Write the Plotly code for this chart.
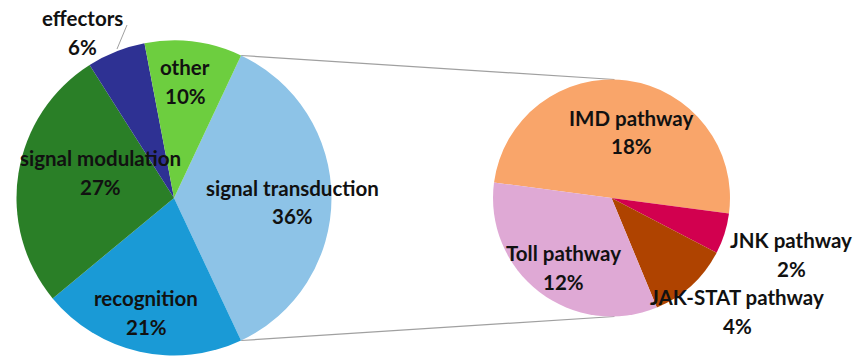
import math
import plotly.graph_objects as go

# Main pie: immune gene categories (percent)
main_labels = ["signal transduction", "recognition", "signal modulation", "effectors", "other"]
main_values = [36, 21, 27, 6, 10]
main_colors = ["#8DC3E7", "#1A9AD6", "#2A7F27", "#2E3193", "#6DCE3F"]

# Breakdown of "signal transduction" (percent of all genes)
sub_labels = ["IMD pathway", "JNK pathway", "JAK-STAT pathway", "Toll pathway"]
sub_values = [18, 2, 4, 12]
sub_colors = ["#F9A56A", "#D2004F", "#AF4300", "#DFA9D5"]

W, H = 855, 356
FONT = "Lato"
FSIZE = 20.5

# Pie geometry in pixels
L_CX, L_CY, L_R = 174, 198, 157.5
R_CX, R_CY, R_R = 611.5, 198, 118.5


def dom(cx, cy, r):
    return dict(x=[(cx - r) / W, (cx + r) / W], y=[1 - (cy + r) / H, 1 - (cy - r) / H])


# Start angle (clockwise from 12 o'clock) so the exploded slice is centred at 3 o'clock
main_total = sum(main_values)
first_span = 360 * main_values[0] / main_total
main_rot = 90 - first_span / 2
sub_total = sum(sub_values)
sub_rot = 97.5 - 360 * sub_values[0] / sub_total

fig = go.Figure()
fig.add_trace(go.Pie(
    labels=main_labels, values=main_values, sort=False, direction="clockwise",
    rotation=main_rot, marker=dict(colors=main_colors, line=dict(width=0)),
    textinfo="none", hoverinfo="label+percent", showlegend=False,
    domain=dom(L_CX, L_CY, L_R),
))
fig.add_trace(go.Pie(
    labels=sub_labels, values=sub_values, sort=False, direction="clockwise",
    rotation=sub_rot, marker=dict(colors=sub_colors, line=dict(width=0)),
    textinfo="none", hoverinfo="label+value", showlegend=False,
    domain=dom(R_CX, R_CY, R_R),
))


def px(x, y):
    return x / W, 1 - y / H


# Connector lines from the exploded slice edges to top/bottom of the sub pie
shapes = []
for ang, ty in [(main_rot, R_CY - R_R), (main_rot + first_span, R_CY + R_R)]:
    a = math.radians(ang)
    x0 = L_CX + L_R * math.sin(a)
    y0 = L_CY - L_R * math.cos(a)
    X0, Y0 = px(x0, y0)
    X1, Y1 = px(R_CX + 3, ty)
    shapes.append(dict(type="line", xref="paper", yref="paper", x0=X0, y0=Y0, x1=X1, y1=Y1,
                       line=dict(color="#A0A0A0", width=1.2), layer="below"))
# leader line for the small "effectors" label
X0, Y0 = px(127, 25)
X1, Y1 = px(117, 49)
shapes.append(dict(type="line", xref="paper", yref="paper", x0=X0, y0=Y0, x1=X1, y1=Y1,
                   line=dict(color="#A0A0A0", width=1)))

# Label positions (pixel centres of the name line)
main_pos = {"signal transduction": (292, 188), "recognition": (146, 298),
            "signal modulation": (100, 158), "effectors": (82, 18), "other": (185, 67)}
sub_pos = {"IMD pathway": (631, 118), "JNK pathway": (791, 240),
           "JAK-STAT pathway": (737, 297), "Toll pathway": (563, 253)}

annotations = []
def add_label(name, pct, pos):
    x, y = pos
    for k, t in enumerate([name, f"{pct}%"]):
        X, Y = px(x, y + 28.5 * k)
        annotations.append(dict(x=X, y=Y, xref="paper", yref="paper", text=f"<b>{t}</b>",
                                showarrow=False, xanchor="center", yanchor="middle",
                                font=dict(family=FONT, size=FSIZE, color="#111111")))

for lab, v in zip(main_labels, main_values):
    add_label(lab, round(100 * v / main_total), main_pos[lab])
for lab, v in zip(sub_labels, sub_values):
    add_label(lab, v, sub_pos[lab])

fig.update_layout(width=W, height=H, margin=dict(l=0, r=0, t=0, b=0),
                  paper_bgcolor="white", plot_bgcolor="white",
                  shapes=shapes, annotations=annotations)
fig.write_html("out.html")
